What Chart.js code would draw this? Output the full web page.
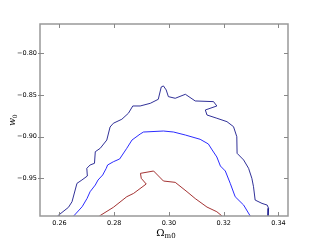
<!DOCTYPE html>
<html>
<head>
<meta charset="utf-8">
<script src="https://cdn.jsdelivr.net/npm/chart.js@4"></script>
<style>
  html, body { margin: 0; padding: 0; background: #fff; }
  #wrap { width: 320px; height: 240px; }
</style>
</head>
<body>
<div id="wrap"><canvas id="chart" width="320" height="240"></canvas></div>
<script>
// contour levels (Omega_m0, w0)
const outerX = [0.2593, 0.2633, 0.2646, 0.2664, 0.2682, 0.2702, 0.2700, 0.2712, 0.2728, 0.2731,
    0.2749, 0.2773, 0.2785, 0.2797, 0.2828, 0.2852, 0.2868, 0.2895, 0.2932, 0.2961,
    0.2972, 0.2980, 0.2990, 0.2998, 0.3023, 0.3060, 0.3096, 0.3163, 0.3175, 0.3133,
    0.3139, 0.3175, 0.3212, 0.3236, 0.3248, 0.3249, 0.3273, 0.3291, 0.3303, 0.3309,
    0.3315, 0.3340, 0.3359, 0.3364, 0.3362];
const outerY = [-0.995, -0.9846, -0.9779, -0.9559, -0.9519, -0.9471, -0.9379, -0.9339, -0.9319, -0.9180,
    -0.9139, -0.9040, -0.8884, -0.8839, -0.8791, -0.8719, -0.8632, -0.8632, -0.8600, -0.8552,
    -0.8404, -0.8392, -0.8440, -0.8520, -0.8540, -0.8492, -0.8572, -0.8580, -0.8632, -0.8680,
    -0.8740, -0.8779, -0.8820, -0.8880, -0.9000, -0.9199, -0.9279, -0.9379, -0.9499, -0.9599,
    -0.9759, -0.9799, -0.9819, -0.9858, -0.995];

const middleX = [0.2652, 0.2683, 0.2701, 0.2712, 0.2731, 0.2741, 0.2758, 0.2771, 0.2776, 0.2797,
    0.2820, 0.2846, 0.2865, 0.2895, 0.2907, 0.2980, 0.3017, 0.3060, 0.3114, 0.3144,
    0.3158, 0.3175, 0.3188, 0.3206, 0.3224, 0.3242, 0.3273, 0.3297];
const middleY = [-0.995, -0.9839, -0.9739, -0.9659, -0.9579, -0.9519, -0.9459, -0.9379, -0.9339, -0.9300,
    -0.9267, -0.9139, -0.9040, -0.8968, -0.8944, -0.8932, -0.8944, -0.8980, -0.9031, -0.9087,
    -0.9159, -0.9243, -0.9351, -0.9411, -0.9559, -0.9719, -0.9819, -0.995];

const innerX = [0.2746, 0.2797, 0.2846, 0.2871, 0.2917, 0.2899, 0.2896, 0.2944, 0.2980, 0.3023,
    0.3066, 0.3096, 0.3139, 0.3175, 0.3194];
const innerY = [-0.995, -0.9846, -0.9719, -0.9679, -0.9567, -0.9499, -0.9439, -0.9411, -0.9531, -0.9547,
    -0.9659, -0.9741, -0.9843, -0.9899, -0.995];

const xTicks = [0.26, 0.28, 0.30, 0.32, 0.34];
const yTicks = [-0.95, -0.90, -0.85, -0.80];

function zip(xs, ys) {
    return xs.map((x, i) => ({ x: x, y: ys[i] }));
}

function fmt(v) {
    return v.toFixed(2).replace('-', '\u2212');
}

// matplotlib-like frame with inward ticks, plus subscripted axis labels
const framePlugin = {
    id: 'frame',
    afterDraw(chart) {
        const ctx = chart.ctx;
        const a = chart.chartArea;
        const xs = chart.scales.x, ys = chart.scales.y;
        ctx.save();
        ctx.strokeStyle = '#999';
        ctx.lineWidth = 1.5;
        ctx.strokeRect(a.left, a.top, a.right - a.left, a.bottom - a.top);

        ctx.lineWidth = 1;
        ctx.strokeStyle = '#888';
        ctx.beginPath();
        xTicks.forEach(v => {
            const px = Math.round(xs.getPixelForValue(v)) + 0.5;
            ctx.moveTo(px, a.bottom); ctx.lineTo(px, a.bottom - 4);
            ctx.moveTo(px, a.top); ctx.lineTo(px, a.top + 4);
        });
        yTicks.forEach(v => {
            const py = Math.round(ys.getPixelForValue(v)) + 0.5;
            ctx.moveTo(a.left, py); ctx.lineTo(a.left + 4, py);
            ctx.moveTo(a.left - 2, py); ctx.lineTo(a.left, py);
            ctx.moveTo(a.right, py); ctx.lineTo(a.right - 4, py);
        });
        ctx.stroke();

        // x label: Omega_m0
        ctx.fillStyle = '#000';
        ctx.textBaseline = 'alphabetic';
        ctx.font = '10px "DejaVu Serif"';
        const cx = (a.left + a.right) / 2;
        const wOm = ctx.measureText('\u03a9').width;
        ctx.font = '7px "DejaVu Serif"';
        const wSub = ctx.measureText('m0').width;
        let sx = cx - (wOm + wSub) / 2 + 2;
        ctx.font = '10px "DejaVu Serif"';
        ctx.fillText('\u03a9', sx, 236);
        ctx.font = '7px "DejaVu Serif"';
        ctx.fillText('m0', sx + wOm, 238);

        // y label: w_0, rotated
        ctx.translate(15, (a.top + a.bottom) / 2);
        ctx.rotate(-Math.PI / 2);
        ctx.font = 'italic 9px "DejaVu Serif"';
        const wW = ctx.measureText('w').width;
        ctx.fillText('w', -(wW + 4) / 2, 0);
        ctx.font = '6px "DejaVu Serif"';
        ctx.fillText('0', -(wW + 4) / 2 + wW, 2);
        ctx.restore();
    }
};

const lineStyle = { showLine: true, pointRadius: 0, borderWidth: 0.9, tension: 0, fill: false };

new Chart(document.getElementById('chart').getContext('2d'), {
    type: 'scatter',
    data: {
        datasets: [
            { ...lineStyle, data: zip(outerX, outerY), borderColor: '#1a1a8c' },
            { ...lineStyle, data: zip(middleX, middleY), borderColor: '#1414ff' },
            { ...lineStyle, data: zip(innerX, innerY), borderColor: '#9a1c1c' }
        ]
    },
    options: {
        responsive: false,
        animation: false,
        devicePixelRatio: 1,
        layout: { padding: { left: 0, right: 32, top: 24, bottom: 0 } },
        plugins: { legend: { display: false }, tooltip: { enabled: false } },
        scales: {
            x: {
                type: 'linear',
                min: 0.2529,
                max: 0.3435,
                grid: { display: false, drawTicks: false },
                border: { display: false },
                afterBuildTicks: s => { s.ticks = xTicks.map(v => ({ value: v })); },
                afterFit: s => { s.height = 24; },
                ticks: {
                    padding: 3,
                    maxRotation: 0,
                    color: '#000',
                    font: { family: 'DejaVu Sans', size: 6.5 },
                    callback: v => fmt(v)
                }
            },
            y: {
                type: 'linear',
                min: -0.995,
                max: -0.765,
                grid: { display: false, drawTicks: false },
                border: { display: false },
                afterBuildTicks: s => { s.ticks = yTicks.map(v => ({ value: v })); },
                afterFit: s => { s.width = 40; },
                ticks: {
                    padding: 3,
                    color: '#000',
                    font: { family: 'DejaVu Sans', size: 6.5 },
                    callback: v => fmt(v)
                }
            }
        }
    },
    plugins: [framePlugin]
});
</script>
</body>
</html>
